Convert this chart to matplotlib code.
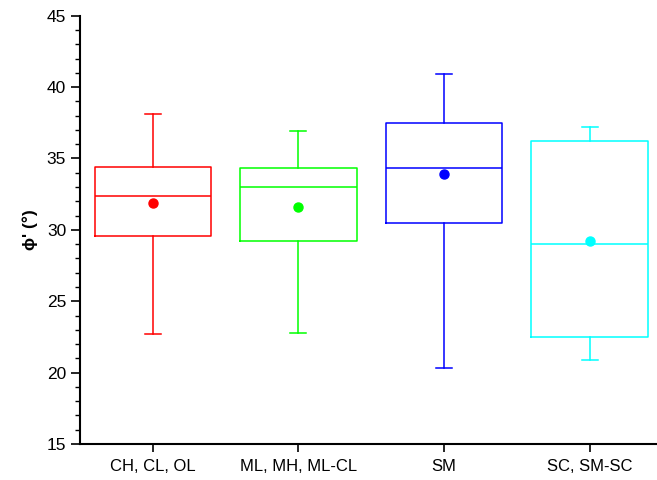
import matplotlib
matplotlib.use("Agg")
import matplotlib.pyplot as plt
from matplotlib.ticker import MultipleLocator

plt.rcParams['font.family'] = ['Liberation Sans', 'DejaVu Sans']

categories = ["CH, CL, OL", "ML, MH, ML-CL", "SM", "SC, SM-SC"]
whislo = [22.7, 22.8, 20.3, 20.9]
q1 = [29.6, 29.2, 30.5, 22.5]
med = [32.4, 33.0, 34.3, 29.0]
q3 = [34.4, 34.3, 37.5, 36.2]
whishi = [38.1, 36.9, 40.9, 37.2]
means = [31.9, 31.6, 33.9, 29.2]
colors = ["#FF0000", "#00FF00", "#0000FF", "#00FFFF"]

fig = plt.figure(figsize=(6.57, 4.8), dpi=100)
ax = fig.add_axes([80/657, 1-444/480, 1-80/657, (444-15.7)/480])

positions = list(range(1, len(categories)+1))
for i, c in enumerate(colors):
    stats = [dict(whislo=whislo[i], q1=q1[i], med=med[i], q3=q3[i],
                  whishi=whishi[i], mean=means[i], fliers=[], label=categories[i])]
    ax.bxp(stats, positions=[positions[i]], widths=0.8, showmeans=True,
           showfliers=False, capwidths=0.11,
           boxprops=dict(color=c, linewidth=1.1),
           whiskerprops=dict(color=c, linewidth=1.1),
           capprops=dict(color=c, linewidth=1.1),
           medianprops=dict(color=c, linewidth=1.1),
           meanprops=dict(marker='o', markerfacecolor=c, markeredgecolor=c, markersize=6.5))

ax.set_xlim(0.5, 0.5 + (657-80)/145.6)
ax.set_ylim(15, 45)
ax.set_xticks(positions)
ax.set_xticklabels(categories, fontsize=12)
ax.yaxis.set_major_locator(MultipleLocator(5))
ax.yaxis.set_minor_locator(MultipleLocator(1))
ax.tick_params(axis='y', which='major', length=6.5, width=1.2, labelsize=12.5, direction='out')
ax.tick_params(axis='y', which='minor', length=3.5, width=1.0, direction='out')
ax.tick_params(axis='x', which='major', length=6, width=1.2, direction='out', pad=5)
for s in ['top', 'right']:
    ax.spines[s].set_visible(False)
for s in ['left', 'bottom']:
    ax.spines[s].set_linewidth(1.5)
ax.set_ylabel("ϕ' (°)", fontsize=12.5, fontweight='bold', labelpad=6)

fig.savefig("out.png", dpi=100)
